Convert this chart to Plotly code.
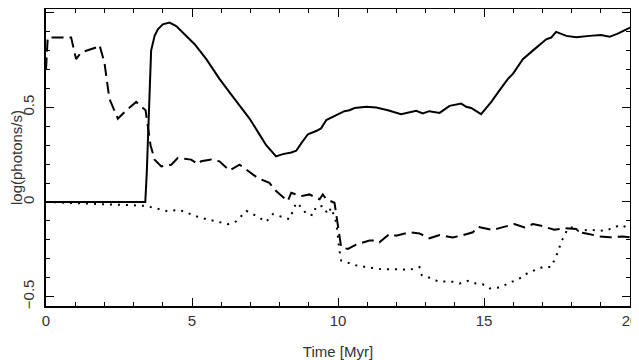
import plotly.graph_objects as go

# Solid curve
solid_t = [0, 3.40, 3.45, 3.49, 3.6, 3.72, 3.83, 4.0, 4.23, 4.46, 4.68, 5.09, 5.49,
           5.94, 6.28, 6.63, 6.97, 7.25, 7.54, 7.88, 8.11, 8.4, 8.57, 8.74, 8.97,
           9.25, 9.42, 9.6, 9.94, 10.22, 10.39, 10.57, 10.97, 11.31, 11.71, 12.16,
           12.68, 12.9, 13.13, 13.48, 13.82, 14.22, 14.39, 14.56, 14.9, 15.25, 15.53,
           15.82, 15.99, 16.33, 16.67, 17.13, 17.3, 17.47, 17.82, 18.16, 18.61,
           19.01, 19.3, 19.58, 20.0]
solid_y = [0, 0, 0.15, 0.35, 0.80, 0.878, 0.913, 0.939, 0.948, 0.93, 0.895, 0.834,
           0.755, 0.651, 0.581, 0.512, 0.441, 0.372, 0.30, 0.241, 0.253, 0.262,
           0.271, 0.31, 0.358, 0.375, 0.389, 0.433, 0.459, 0.48, 0.485, 0.497,
           0.503, 0.499, 0.485, 0.464, 0.482, 0.468, 0.48, 0.471, 0.508, 0.52,
           0.503, 0.497, 0.464, 0.529, 0.59, 0.651, 0.677, 0.755, 0.80, 0.86,
           0.869, 0.899, 0.878, 0.871, 0.878, 0.883, 0.873, 0.89, 0.921]

# Dashed curve
dashed_t = [0, 0.06, 0.86, 0.92, 1.03, 1.2, 1.72, 1.83, 2.0, 2.17, 2.35, 2.46, 2.75,
            3.09, 3.41, 3.58, 3.72, 3.95, 4.29, 4.51, 4.97, 5.2, 5.31, 5.66, 5.94,
            6.28, 6.63, 6.97, 7.25, 7.65, 7.88, 8.28, 8.4, 8.74, 9.02, 9.14, 9.37,
            9.48, 9.6, 9.88, 9.94, 10.05, 10.11, 10.34, 10.62, 11.08, 11.31, 11.42,
            11.76, 11.99, 12.45, 12.79, 13.13, 13.48, 13.93, 14.22, 14.62, 14.79,
            14.9, 15.3, 15.53, 16.04, 16.39, 16.67, 16.96, 17.41, 17.76, 18.16,
            18.27, 18.5, 18.96, 19.3, 19.75, 20.0]
dashed_y = [0.70, 0.87, 0.87, 0.826, 0.755, 0.79, 0.817, 0.83, 0.738, 0.546, 0.476,
            0.44, 0.485, 0.529, 0.485, 0.30, 0.224, 0.188, 0.197, 0.232, 0.224, 0.20,
            0.215, 0.224, 0.215, 0.166, 0.197, 0.159, 0.127, 0.101, 0.058, 0.005,
            0.049, 0.031, 0.04, 0.031, 0.014, 0.04, 0.014, -0.004, -0.064, -0.187,
            -0.24, -0.248, -0.225, -0.204, -0.204, -0.213, -0.169, -0.178, -0.16,
            -0.166, -0.192, -0.175, -0.187, -0.178, -0.16, -0.131, -0.135, -0.148,
            -0.138, -0.117, -0.134, -0.117, -0.126, -0.147, -0.138, -0.143, -0.16,
            -0.166, -0.182, -0.187, -0.182, -0.187]

# Dotted curve
dotted_t = [0, 3.40, 4.12, 4.57, 5.26, 5.83, 6.23, 6.51, 6.86, 7.2, 7.54, 7.77, 8.17,
            8.34, 8.57, 8.79, 8.91, 9.14, 9.25, 9.48, 9.65, 9.77, 9.94, 9.99, 10.05,
            10.11, 10.28, 10.62, 11.08, 11.53, 11.99, 12.45, 12.79, 12.87, 13.13,
            13.42, 13.93, 14.16, 14.45, 14.73, 14.96, 15.19, 15.53, 15.76, 16.04,
            16.27, 16.5, 16.73, 17.01, 17.3, 17.41, 17.53, 17.64, 17.76, 17.87, 18.1,
            18.22, 18.61, 18.9, 19.13, 19.42, 19.65, 19.92, 20.0]
dotted_y = [0, -0.02, -0.047, -0.042, -0.082, -0.103, -0.117, -0.103, -0.047,
            -0.073, -0.105, -0.064, -0.082, -0.091, -0.004, -0.033, -0.064, -0.07,
            -0.024, -0.021, -0.064, -0.03, -0.108, -0.187, -0.257, -0.309, -0.318,
            -0.335, -0.347, -0.356, -0.356, -0.358, -0.344, -0.387, -0.40, -0.419,
            -0.422, -0.431, -0.417, -0.431, -0.435, -0.457, -0.452, -0.435, -0.414,
            -0.40, -0.375, -0.361, -0.344, -0.344, -0.309, -0.265, -0.213, -0.178,
            -0.14, -0.131, -0.152, -0.147, -0.152, -0.152, -0.138, -0.122, -0.134,
            -0.13]

x_ticks = [0, 5, 10, 15, 20]
y_ticks = [-0.5, 0, 0.5, 1]

FONT = dict(family="Liberation Sans, Arial, sans-serif", size=15, color="#333")

fig = go.Figure()
fig.add_trace(go.Scatter(x=dotted_t, y=dotted_y, mode="lines",
                         line=dict(color="black", width=2, dash="2px,6px")))
fig.add_trace(go.Scatter(x=dashed_t, y=dashed_y, mode="lines",
                         line=dict(color="black", width=2, dash="12px,6px")))
fig.add_trace(go.Scatter(x=solid_t, y=solid_y, mode="lines",
                         line=dict(color="black", width=2)))

axis_common = dict(
    showgrid=False, zeroline=False, showline=True, linecolor="black", linewidth=1.5,
    mirror="allticks", ticks="inside", ticklen=8, tickwidth=1, tickcolor="black",
    tickfont=FONT, automargin=False,
)

fig.update_xaxes(
    range=[0, 20], tickvals=x_ticks, ticktext=[str(v) for v in x_ticks],
    minor=dict(dtick=1, ticks="inside", ticklen=4, tickcolor="black"),
    title=dict(text="Time [Myr]", font=FONT, standoff=19),
    **axis_common,
)
fig.update_yaxes(
    range=[-0.5497, 1.02], tickvals=y_ticks, ticktext=["\u22120.5", "0", "0.5", "1"],
    tickangle=-90, ticklabelstandoff=4,
    minor=dict(dtick=0.1, tick0=0, ticks="inside", ticklen=4, tickcolor="black"),
    title=dict(text="log(photons/s)", font=FONT, standoff=6),
    **axis_common,
)

# the page adds an 8px body margin, so the figure is sized to fit what remains
fig.update_layout(
    width=631, height=352,
    margin=dict(l=38, r=9, t=1, b=54),
    plot_bgcolor="white", paper_bgcolor="white",
    showlegend=False,
)

fig.write_html("out.html")
